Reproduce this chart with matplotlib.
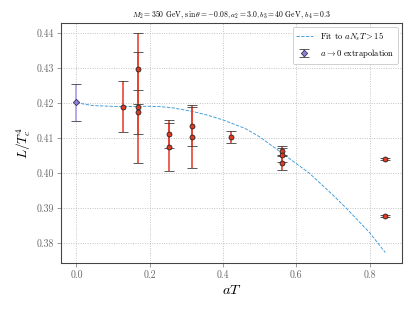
import matplotlib
matplotlib.use("Agg")
import matplotlib.pyplot as plt

plt.rcParams['font.family'] = 'serif'
plt.rcParams['font.serif'] = ['cmr10', 'DejaVu Serif']
plt.rcParams['mathtext.fontset'] = 'cm'
plt.rcParams['axes.formatter.use_mathtext'] = True

# extrapolation point
x0 = [0.0]
y0 = [0.4201]
e0 = [0.0053]

# lattice data
aT = [0.127, 0.169, 0.169, 0.169, 0.253, 0.253, 0.316, 0.316, 0.421,
      0.562, 0.562, 0.562, 0.843, 0.843]
L = [0.4189, 0.4297, 0.4187, 0.4174, 0.4111, 0.4073, 0.4135, 0.4101, 0.4102,
     0.4063, 0.4051, 0.4027, 0.4039, 0.3878]
Lerr = [0.0072, 0.0101, 0.0158, 0.0063, 0.0040, 0.0068, 0.0058, 0.0088, 0.0017,
        0.0013, 0.0021, 0.0020, 0.0003, 0.0003]

# fit curve
fit_x = [0.0, 0.045, 0.12, 0.2, 0.227, 0.26, 0.318, 0.36, 0.40, 0.46, 0.50, 0.563,
         0.636, 0.70, 0.736, 0.80, 0.843]
fit_y = [0.4200, 0.4192, 0.4189, 0.4190, 0.4189, 0.4186, 0.4175, 0.4164, 0.4151, 0.4127,
         0.4103, 0.4055, 0.3999, 0.3937, 0.3900, 0.3830, 0.3773]

fig = plt.figure(figsize=(6.4, 4.8), dpi=415/6.4)
ax = fig.add_axes([0.147, 0.154, 0.822, 0.772])

ax.plot(fit_x, fit_y, ls='--', color='#3a9ad9', lw=1.0, label=r'Fit to $aN_sT > 15$', zorder=2)
eb1 = ax.errorbar(aT, L, yerr=Lerr, fmt='o', color='#e03a24', ecolor='#e8412c', elinewidth=1.8,
                  capsize=5, capthick=1.2, mfc='#e03a24', mec='#222222', mew=0.9, ms=5.5, zorder=3)
eb0 = ax.errorbar(x0, y0, yerr=e0, fmt='D', color='#8e80d8', ecolor='#a99be6', elinewidth=1.8,
                  capsize=5, capthick=1.2, mfc='#8e80d8', mec='#333355', mew=0.9, ms=5,
                  label=r'$a \to 0$ extrapolation', zorder=3)

for eb in (eb1, eb0):
    for cl in eb[1]:
        cl.set_color('#3a3a3a')
        cl.set_markeredgecolor('#3a3a3a')
        cl.set_markerfacecolor('#3a3a3a')

ax.set_xlabel(r'$aT$', fontsize=16)
ax.set_ylabel(r'$L/T_c^4$', fontsize=15)
ax.set_title(r'$M_2 = 350$ GeV, $\sin\theta = -0.08, a_2 = 3.0, b_3 = 40$ GeV, $b_4 = 0.3$', fontsize=8.5)

ax.set_xticks([0.0, 0.2, 0.4, 0.6, 0.8])
ax.set_yticks([0.38, 0.39, 0.40, 0.41, 0.42, 0.43, 0.44])
ax.set_xticklabels(['0.0', '0.2', '0.4', '0.6', '0.8'])
ax.set_yticklabels(['0.38', '0.39', '0.40', '0.41', '0.42', '0.43', '0.44'])
ax.tick_params(labelsize=11, colors='#777777', labelcolor='#666666', length=4)
ax.grid(True, ls=':', color='#bbbbbb', lw=1)
for s in ax.spines.values():
    s.set_color('#444444')
    s.set_linewidth(1.2)

ax.set_xlim(-0.042, 0.889)
ax.set_ylim(0.3743, 0.4428)
ax.legend(loc='upper right', fontsize=9.5, framealpha=1)

fig.savefig('out.png', dpi=415/6.4)
